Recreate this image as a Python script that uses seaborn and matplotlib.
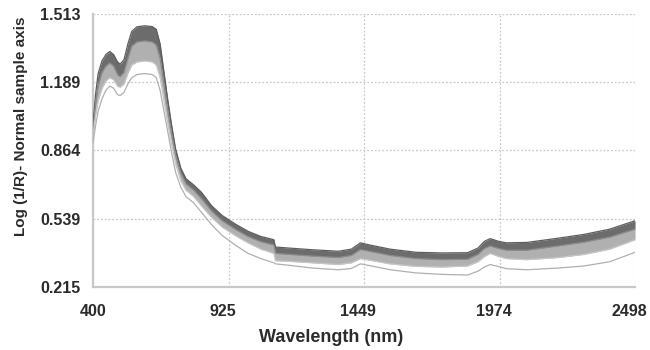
import numpy as np
import pandas as pd
import matplotlib
matplotlib.use("Agg")
import matplotlib.pyplot as plt
import matplotlib.transforms as mtransforms
import seaborn as sns

# ---- data ----
wavelength = [400, 410, 420, 435, 450, 465, 480, 495, 505, 520, 535, 550, 570, 600,
              630, 645, 660, 675, 690, 705, 720, 740, 760, 790, 820, 860, 900, 950,
              1000, 1050, 1100, 1106, 1160, 1250, 1350, 1400, 1435, 1470, 1550, 1650,
              1750, 1850, 1890, 1915, 1937, 1970, 2000, 2080, 2200, 2300, 2400, 2498]

spec_top = [0.99, 1.13, 1.23, 1.29, 1.32, 1.335, 1.32, 1.285, 1.275, 1.295, 1.37, 1.43,
            1.452, 1.457, 1.453, 1.44, 1.37, 1.235, 1.10, 0.98, 0.87, 0.78, 0.73, 0.70,
            0.665, 0.60, 0.555, 0.515, 0.48, 0.455, 0.44, 0.405, 0.40, 0.392, 0.385,
            0.395, 0.425, 0.415, 0.395, 0.38, 0.377, 0.378, 0.40, 0.432, 0.445, 0.432,
            0.425, 0.427, 0.447, 0.465, 0.49, 0.53]

spec_dark = [0.96, 1.08, 1.17, 1.235, 1.265, 1.28, 1.265, 1.225, 1.215, 1.235, 1.30, 1.36,
             1.38, 1.385, 1.38, 1.365, 1.30, 1.175, 1.05, 0.94, 0.84, 0.755, 0.705,
             0.675, 0.635, 0.575, 0.53, 0.49, 0.455, 0.43, 0.415, 0.375, 0.37, 0.362,
             0.355, 0.365, 0.393, 0.385, 0.365, 0.35, 0.345, 0.347, 0.37, 0.398, 0.41,
             0.398, 0.39, 0.39, 0.41, 0.428, 0.452, 0.49]

spec_light = [0.93, 1.03, 1.10, 1.16, 1.195, 1.21, 1.20, 1.17, 1.165, 1.18, 1.23, 1.27,
              1.285, 1.29, 1.285, 1.27, 1.21, 1.10, 0.99, 0.89, 0.80, 0.72, 0.675,
              0.645, 0.60, 0.545, 0.50, 0.46, 0.425, 0.395, 0.375, 0.34, 0.337, 0.33,
              0.322, 0.33, 0.35, 0.343, 0.325, 0.313, 0.31, 0.315, 0.335, 0.36, 0.375,
              0.36, 0.35, 0.345, 0.355, 0.37, 0.395, 0.44]

spec_lowest = [0.90, 0.98, 1.05, 1.11, 1.15, 1.17, 1.16, 1.13, 1.125, 1.14, 1.18, 1.21,
               1.225, 1.23, 1.225, 1.21, 1.15, 1.05, 0.95, 0.85, 0.76, 0.69, 0.645,
               0.615, 0.57, 0.51, 0.46, 0.415, 0.375, 0.35, 0.33, 0.325, 0.318, 0.305,
               0.297, 0.303, 0.325, 0.317, 0.297, 0.282, 0.275, 0.272, 0.29, 0.31,
               0.322, 0.312, 0.302, 0.297, 0.305, 0.315, 0.335, 0.38]

x_ticks = [400, 925, 1449, 1974, 2498]
y_ticks = [0.215, 0.539, 0.864, 1.189, 1.513]
y_tick_labels = ["0.215", "0.539", "0.864", "1.189", "1.513"]

# ---- styling ----
sns.set_theme(style="white")
plt.rcParams['font.family'] = ['Liberation Sans', 'DejaVu Sans']

fig = plt.figure(figsize=(6.5, 3.5), dpi=100)
ax = fig.add_axes([0.143, 0.18, 0.834, 0.78])

df = pd.DataFrame({
    "wavelength": wavelength * 4,
    "value": spec_top + spec_dark + spec_light + spec_lowest,
    "curve": (["top"] * len(wavelength) + ["dark"] * len(wavelength)
              + ["light"] * len(wavelength) + ["lowest"] * len(wavelength)),
})

# bands of overlapping spectra
ax.fill_between(wavelength, spec_dark, spec_light, color="#b0b0b0", lw=0, zorder=2)
ax.fill_between(wavelength, spec_top, spec_dark, color="#6c6c6c", lw=0, zorder=3)

palette = {"top": "#5e5e5e", "dark": "#8c8c8c", "light": "#c6c6c6", "lowest": "#b0b0b0"}
sns.lineplot(data=df, x="wavelength", y="value", hue="curve", palette=palette,
             estimator=None, sort=False, legend=False, ax=ax, linewidth=0.9, zorder=4)

ax.set_xlim(400, 2498)
ax.set_ylim(0.215, 1.513)
ax.set_xticks(x_ticks)
ax.set_xticklabels([str(t) for t in x_ticks])
ax.set_yticks(y_ticks)
ax.set_yticklabels(y_tick_labels)

ax.grid(True, linestyle=(0, (1.5, 1.5)), color="#c8c8c8", linewidth=0.9)
for s in ["top", "right"]:
    ax.spines[s].set_visible(False)
for s in ["left", "bottom"]:
    ax.spines[s].set_color("#c8c8c8")
    ax.spines[s].set_linewidth(1.6)

ax.tick_params(axis="both", length=0, labelsize=11.5, labelcolor="#2b2b2b")
ax.tick_params(axis="y", pad=9)
ax.tick_params(axis="x", pad=12)
for lab in ax.get_xticklabels() + ax.get_yticklabels():
    lab.set_fontweight("bold")
shift = mtransforms.ScaledTranslation(-6 / 100, 0, fig.dpi_scale_trans)
for lab in ax.get_xticklabels()[1:]:
    lab.set_transform(lab.get_transform() + shift)

ax.set_xlabel("Wavelength (nm)", fontsize=13, fontweight="bold", color="#2b2b2b")
ax.xaxis.set_label_coords(0.44, -0.155)
ax.set_ylabel("Log (1/R)- Normal sample axis", fontsize=11, fontweight="bold",
              color="#2b2b2b")
ax.yaxis.set_label_coords(-0.12, 0.59)

fig.savefig("out.png", dpi=100)
